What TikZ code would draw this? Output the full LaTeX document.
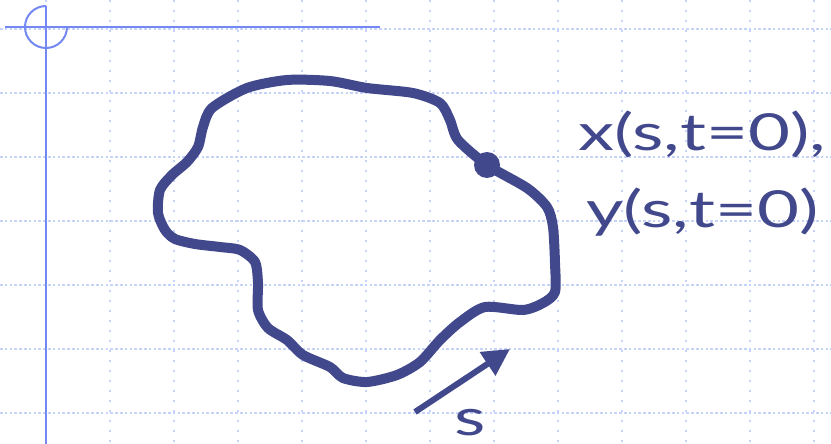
\documentclass[tikz,border=0pt]{standalone}
\usepackage{fontspec}
\setmainfont{Lato}
\newfontfamily\wideface[FakeStretch=1.42]{Lato}
\usepackage{tikz}
\usetikzlibrary{arrows.meta}

\definecolor{inkblue}{HTML}{42488C}
\definecolor{axisblue}{HTML}{7388F2}
\definecolor{gridblue}{HTML}{C6D3FA}

\begin{document}
\begin{tikzpicture}[
  x=1pt, y=-1pt,
  font=\wideface\fontsize{51}{60}\selectfont,
  hgrid/.style={gridblue, line width=1.5pt, dash pattern=on 2.5pt off 2.3pt},
  vgrid/.style={gridblue, line width=1.5pt, dash pattern=on 2pt off 8pt},
  axisline/.style={axisblue, line width=2pt},
  contour/.style={inkblue, line width=10pt, line join=round},
  marker/.style={circle, fill=inkblue, inner sep=0pt, minimum size=26pt},
  label/.style={inkblue, inner sep=0pt, anchor=base west},
]
\useasboundingbox (0,0) rectangle (831,444);

% --- grid ---
\foreach \gx in {46,110,...,830}
  \draw[vgrid] (\gx,0) -- (\gx,444);
\foreach \gy in {29,93,...,444}
  \draw[hgrid] (0,\gy) -- (831,\gy);

% --- axes ---
\draw[axisline] (5,27) -- (380,27);
\draw[axisline] (46,6) -- (46,444);
\draw[axisline] (46,6) arc[start angle=-90, end angle=-360, radius=21];

% --- contour ---
\draw[contour] plot[smooth cycle, tension=0.45] coordinates {
  (287,80) (330,81) (367,88) (413,93) (440,103) (450,120) (458,140)
  (487,165) (527,188) (547,207) (553,227) (555,263) (555,292) (543,303)
  (523,310) (485,307) (460,322) (440,340) (420,362) (397,375) (367,382)
  (343,378) (330,367) (303,355) (287,340) (268,328) (258,310) (258,283)
  (255,262) (240,250) (220,247) (195,244) (175,239) (165,230) (158,213)
  (160,190) (172,175) (187,162) (198,147) (203,127) (212,108) (247,88)
};
\node[marker] (P0) at (487,165) {};

% --- labels ---
\node[label] (XLabel) at (578,150) {x(s,t=0),};
\node[label] (YLabel) at (586,227) {y(s,t=0)};

% --- direction of s ---
\coordinate (STail) at (415,412);
\coordinate (SHead) at (510,349);
\draw[inkblue, line width=6pt, -{Triangle[length=27pt, width=27pt]}] (STail) -- (SHead);
\node[inkblue, inner sep=0pt, anchor=base] (SLabel) at (470,435) {s};

\end{tikzpicture}
\end{document}
